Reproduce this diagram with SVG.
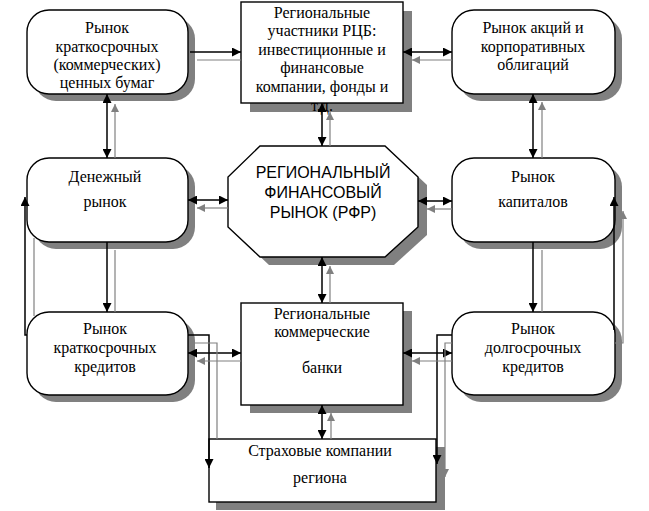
<svg xmlns="http://www.w3.org/2000/svg" width="649" height="511" viewBox="0 0 649 511">
<style>
.box{fill:#fff;stroke:#000;stroke-width:1.4}
.sh{fill:#808080;stroke:none}
.t{font-family:"Liberation Serif","Times New Roman",serif;font-size:16px;fill:#000;text-anchor:middle}
.ts{font-family:"Liberation Sans",Arial,sans-serif;font-size:16px;fill:#000;text-anchor:middle}
.k{stroke:#000;stroke-width:1.5;fill:none}
.g{stroke:#808080;stroke-width:1.2;fill:none}
</style>
<defs>
<marker id="ak" markerUnits="userSpaceOnUse" markerWidth="9" markerHeight="9" refX="9" refY="4.5" orient="auto-start-reverse"><path d="M0,0 L9,4.5 L0,9 z" fill="#000"/></marker>
<marker id="ag" markerUnits="userSpaceOnUse" markerWidth="8" markerHeight="8" refX="8" refY="4" orient="auto-start-reverse"><path d="M0,0 L8,4 L0,8 z" fill="#808080"/></marker>
</defs>
<rect width="649" height="511" fill="#fff"/>
<g id="n-short-securities">
<rect class="sh" x="34" y="17" width="161" height="84" rx="22"/>
<rect class="box" x="27" y="10" width="161" height="84" rx="22"/>
<text class="t" x="107" y="33">Рынок</text>
<text class="t" x="107" y="52">краткосрочных</text>
<text class="t" x="107" y="70">(коммерческих)</text>
<text class="t" x="107" y="88">ценных бумаг</text>
</g>
<g id="n-regional-participants">
<rect class="sh" x="250" y="11" width="162" height="101"/>
<rect class="box" x="241" y="2" width="162" height="101"/>
<text class="t" x="322" y="18">Региональные</text>
<text class="t" x="322" y="36">участники РЦБ:</text>
<text class="t" x="322" y="55">инвестиционные и</text>
<text class="t" x="322" y="73">финансовые</text>
<text class="t" x="322" y="92">компании, фонды и</text>
<text class="t" x="322" y="111">т.д.</text>
</g>
<g id="n-stocks-bonds">
<rect class="sh" x="459" y="17" width="163" height="84" rx="22"/>
<rect class="box" x="452" y="10" width="163" height="84" rx="22"/>
<text class="t" x="533" y="33">Рынок акций и</text>
<text class="t" x="533" y="52">корпоративных</text>
<text class="t" x="533" y="70">облигаций</text>
</g>
<g id="n-money-market">
<rect class="sh" x="34" y="165" width="161" height="84" rx="22"/>
<rect class="box" x="27" y="158" width="161" height="84" rx="22"/>
<text class="t" x="105" y="182">Денежный</text>
<text class="t" x="105" y="207">рынок</text>
</g>
<g id="n-rfr">
<polygon class="sh" points="269,154 394,154 427,185 427,235 394,265 269,265 237,235 237,185"/>
<polygon class="box" points="260,146 385,146 418,177 418,227 385,257 260,257 228,227 228,177"/>
<text class="ts" x="323" y="178">РЕГИОНАЛЬНЫЙ</text>
<text class="ts" x="323" y="198">ФИНАНСОВЫЙ</text>
<text class="ts" x="323" y="218">РЫНОК (РФР)</text>
</g>
<g id="n-capital-market">
<rect class="sh" x="459" y="165" width="163" height="84" rx="22"/>
<rect class="box" x="452" y="158" width="163" height="84" rx="22"/>
<text class="t" x="533" y="182">Рынок</text>
<text class="t" x="533" y="207">капиталов</text>
</g>
<g id="n-short-credit">
<rect class="sh" x="34" y="319" width="161" height="83" rx="22"/>
<rect class="box" x="27" y="312" width="161" height="83" rx="22"/>
<text class="t" x="105" y="334">Рынок</text>
<text class="t" x="105" y="353">краткосрочных</text>
<text class="t" x="105" y="372">кредитов</text>
</g>
<g id="n-banks">
<rect class="sh" x="250" y="311" width="162" height="102"/>
<rect class="box" x="241" y="303" width="162" height="102"/>
<text class="t" x="322" y="319">Региональные</text>
<text class="t" x="322" y="337">коммерческие</text>
<text class="t" x="322" y="373">банки</text>
</g>
<g id="n-long-credit">
<rect class="sh" x="459" y="319" width="163" height="83" rx="22"/>
<rect class="box" x="452" y="312" width="163" height="83" rx="22"/>
<text class="t" x="533" y="334">Рынок</text>
<text class="t" x="533" y="353">долгосрочных</text>
<text class="t" x="533" y="372">кредитов</text>
</g>
<g id="n-insurance">
<rect class="sh" x="216" y="447" width="229" height="63"/>
<rect class="box" x="209" y="439" width="227" height="63"/>
<text class="t" x="320" y="456">Страховые компании</text>
<text class="t" x="320" y="483">региона</text>
</g>
<g id="connectors">
<path class="k" d="M190,52 H241" marker-end="url(#ak)"/>
<path class="k" d="M403,52 H452" marker-start="url(#ak)" marker-end="url(#ak)"/>
<path class="k" d="M107,94 V158" marker-start="url(#ak)" marker-end="url(#ak)"/>
<path class="k" d="M322,103 V146" marker-start="url(#ak)" marker-end="url(#ak)"/>
<path class="k" d="M533,94 V158" marker-start="url(#ak)" marker-end="url(#ak)"/>
<path class="k" d="M188,200 H228" marker-start="url(#ak)" marker-end="url(#ak)"/>
<path class="k" d="M418,201 H452" marker-start="url(#ak)" marker-end="url(#ak)"/>
<path class="k" d="M322,257 V303" marker-start="url(#ak)" marker-end="url(#ak)"/>
<path class="k" d="M107,242 V312" marker-end="url(#ak)"/>
<path class="k" d="M533,242 V312" marker-end="url(#ak)"/>
<path class="k" d="M27,335 H25 V197" marker-end="url(#ak)"/>
<path class="k" d="M614,330 V197" marker-end="url(#ak)"/>
<path class="k" d="M188,353 H241" marker-start="url(#ak)" marker-end="url(#ak)"/>
<path class="k" d="M403,353 H452" marker-start="url(#ak)" marker-end="url(#ak)"/>
<path class="k" d="M322,405 V439" marker-start="url(#ak)" marker-end="url(#ak)"/>
<path class="k" d="M188,335 H209 V468" marker-end="url(#ak)"/>
<path class="k" d="M452,335 H437 V464" marker-end="url(#ak)"/>
<path class="g" d="M197,60 H241"/>
<path class="g" d="M452,60 H412" marker-end="url(#ag)"/>
<path class="g" d="M115,158 V104" marker-end="url(#ag)"/>
<path class="g" d="M330,146 V112" marker-end="url(#ag)"/>
<path class="g" d="M542,158 V102" marker-end="url(#ag)"/>
<path class="g" d="M228,208 H197" marker-end="url(#ag)"/>
<path class="g" d="M452,209 H427" marker-end="url(#ag)"/>
<path class="g" d="M330,303 V266" marker-end="url(#ag)"/>
<path class="g" d="M115,250 V312"/>
<path class="g" d="M542,250 V312"/>
<path class="g" d="M34,238 V316"/>
<path class="g" d="M615,343 H623 V211" marker-end="url(#ag)"/>
<path class="g" d="M241,361 H197" marker-end="url(#ag)"/>
<path class="g" d="M452,361 H412" marker-end="url(#ag)"/>
<path class="g" d="M331,439 V413" marker-end="url(#ag)"/>
<path class="g" d="M190,343 H217 V439"/>
<path class="g" d="M452,343 H445 V477" marker-end="url(#ag)"/>
</g>
</svg>
